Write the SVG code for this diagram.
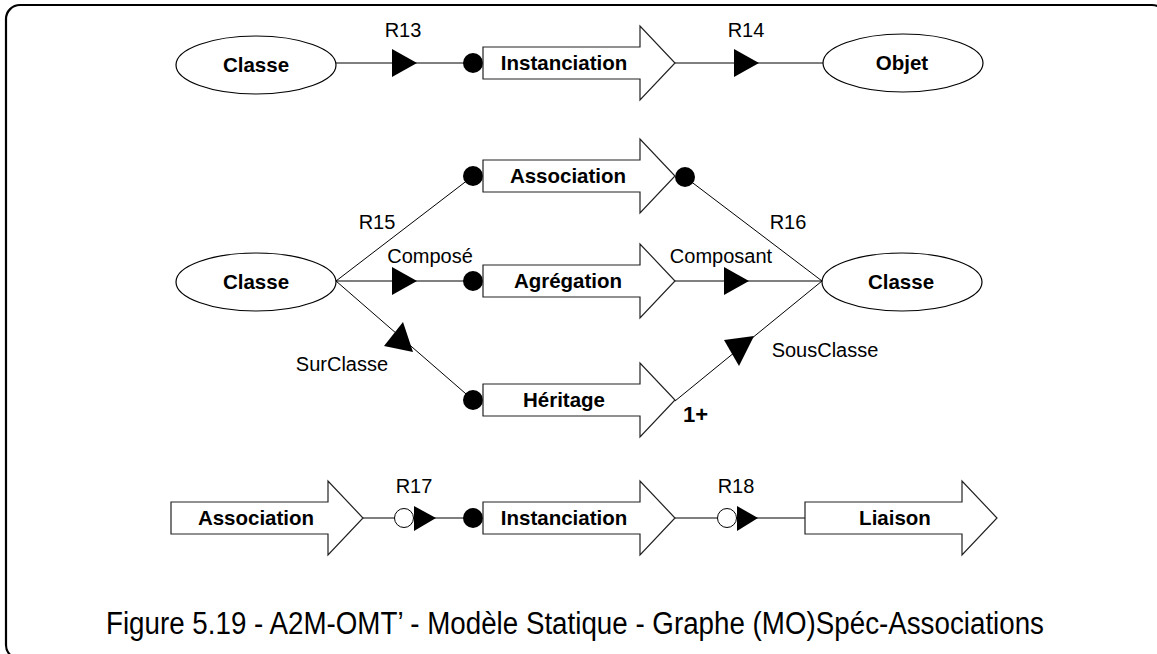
<svg xmlns="http://www.w3.org/2000/svg" width="1157" height="654" viewBox="0 0 1157 654">
<style>
.frame{fill:none;stroke:#000;stroke-width:2.2}
.ell{fill:#fff;stroke:#000;stroke-width:1.2}
.arr{fill:#fff;stroke:#222;stroke-width:1.2}
.ln{fill:none;stroke:#000;stroke-width:1}
.tri{fill:#000;stroke:none}
.dot{fill:#000}
.odot{fill:#fff;stroke:#000;stroke-width:1}
.nt{font-family:"Liberation Sans",Arial,sans-serif;font-size:20.5px;font-weight:bold;text-anchor:middle;fill:#000}
.lb{font-family:"Liberation Sans",Arial,sans-serif;font-size:20px;text-anchor:middle;fill:#000}
.one{font-family:"Liberation Sans",Arial,sans-serif;font-size:22px;font-weight:bold;fill:#000}
.cap{font-family:"Liberation Sans",Arial,sans-serif;font-size:31px;fill:#000}
</style>
<defs>
<path id="bigarrow" d="M0,-16 H157 V-37 L192,0 L157,37 V16 H0 Z"/>
<polygon id="rtri" points="0,-14 25,0 0,14"/>
</defs>
<rect class="frame" x="6" y="5" width="1160" height="654" rx="14" ry="14"/>

<g id="connectors">
  <line class="ln" x1="336" y1="63" x2="465" y2="63"/>
  <use href="#rtri" class="tri" x="392" y="63"/>
  <circle class="dot" cx="473" cy="63" r="10"/>
  <line class="ln" x1="675" y1="63" x2="823" y2="63"/>
  <use href="#rtri" class="tri" x="734" y="63"/>
  <line class="ln" x1="336" y1="281" x2="473" y2="176"/>
  <circle class="dot" cx="473" cy="176" r="10"/>
  <line class="ln" x1="336" y1="281" x2="473" y2="281"/>
  <use href="#rtri" class="tri" x="392" y="281"/>
  <circle class="dot" cx="473" cy="281" r="10"/>
  <line class="ln" x1="336" y1="281" x2="473" y2="400"/>
  <polygon class="tri" points="403,322 384,346 413,352"/>
  <circle class="dot" cx="473" cy="400" r="10"/>
  <line class="ln" x1="685" y1="177" x2="822" y2="281"/>
  <circle class="dot" cx="685" cy="177" r="10"/>
  <line class="ln" x1="675" y1="281" x2="822" y2="281"/>
  <use href="#rtri" class="tri" x="724" y="281"/>
  <line class="ln" x1="675" y1="401" x2="822" y2="281"/>
  <polygon class="tri" points="724,340 754,336 739,366"/>
  <line class="ln" x1="362" y1="518" x2="473" y2="518"/>
  <circle class="odot" cx="404" cy="518" r="9.5"/>
  <polygon class="tri" points="414,506 436,518 414,531"/>
  <circle class="dot" cx="473" cy="518" r="10"/>
  <line class="ln" x1="675" y1="518" x2="805" y2="518"/>
  <circle class="odot" cx="727" cy="518" r="9.5"/>
  <polygon class="tri" points="737,506 758,518 737,531"/>
  <text class="lb" x="403" y="37">R13</text>
  <text class="lb" x="746" y="37">R14</text>
  <text class="lb" x="377" y="229">R15</text>
  <text class="lb" x="788" y="229">R16</text>
  <text class="lb" x="430" y="263">Composé</text>
  <text class="lb" x="721" y="263">Composant</text>
  <text class="lb" x="342" y="371">SurClasse</text>
  <text class="lb" x="825" y="357">SousClasse</text>
  <text class="one" x="683" y="422">1+</text>
  <text class="lb" x="414" y="493">R17</text>
  <text class="lb" x="736" y="493">R18</text>
</g>

<g id="classe-top">
  <ellipse class="ell" cx="256" cy="65" rx="80" ry="29"/>
  <text class="nt" x="256" y="72">Classe</text>
</g>
<g id="instanciation-top">
  <use href="#bigarrow" class="arr" x="483" y="63"/>
  <text class="nt" x="564" y="70">Instanciation</text>
</g>
<g id="objet">
  <ellipse class="ell" cx="903" cy="63" rx="80" ry="29"/>
  <text class="nt" x="902" y="70">Objet</text>
</g>
<g id="classe-left">
  <ellipse class="ell" cx="256" cy="282" rx="80" ry="29"/>
  <text class="nt" x="256" y="289">Classe</text>
</g>
<g id="association-mid">
  <use href="#bigarrow" class="arr" x="483" y="176"/>
  <text class="nt" x="568" y="183">Association</text>
</g>
<g id="agregation">
  <use href="#bigarrow" class="arr" x="483" y="281"/>
  <text class="nt" x="568" y="288">Agrégation</text>
</g>
<g id="heritage">
  <use href="#bigarrow" class="arr" x="483" y="400"/>
  <text class="nt" x="564" y="407">Héritage</text>
</g>
<g id="classe-right">
  <ellipse class="ell" cx="902" cy="282" rx="80" ry="29"/>
  <text class="nt" x="901" y="289">Classe</text>
</g>
<g id="association-bottom">
  <use href="#bigarrow" class="arr" x="171" y="518"/>
  <text class="nt" x="256" y="525">Association</text>
</g>
<g id="instanciation-bottom">
  <use href="#bigarrow" class="arr" x="483" y="518"/>
  <text class="nt" x="564" y="525">Instanciation</text>
</g>
<g id="liaison">
  <use href="#bigarrow" class="arr" x="805" y="518"/>
  <text class="nt" x="895" y="525">Liaison</text>
</g>
<text class="cap" x="106" y="634" textLength="938" lengthAdjust="spacingAndGlyphs">Figure 5.19 - A2M-OMT’ - Modèle Statique - Graphe (MO)Spéc-Associations</text>
</svg>
